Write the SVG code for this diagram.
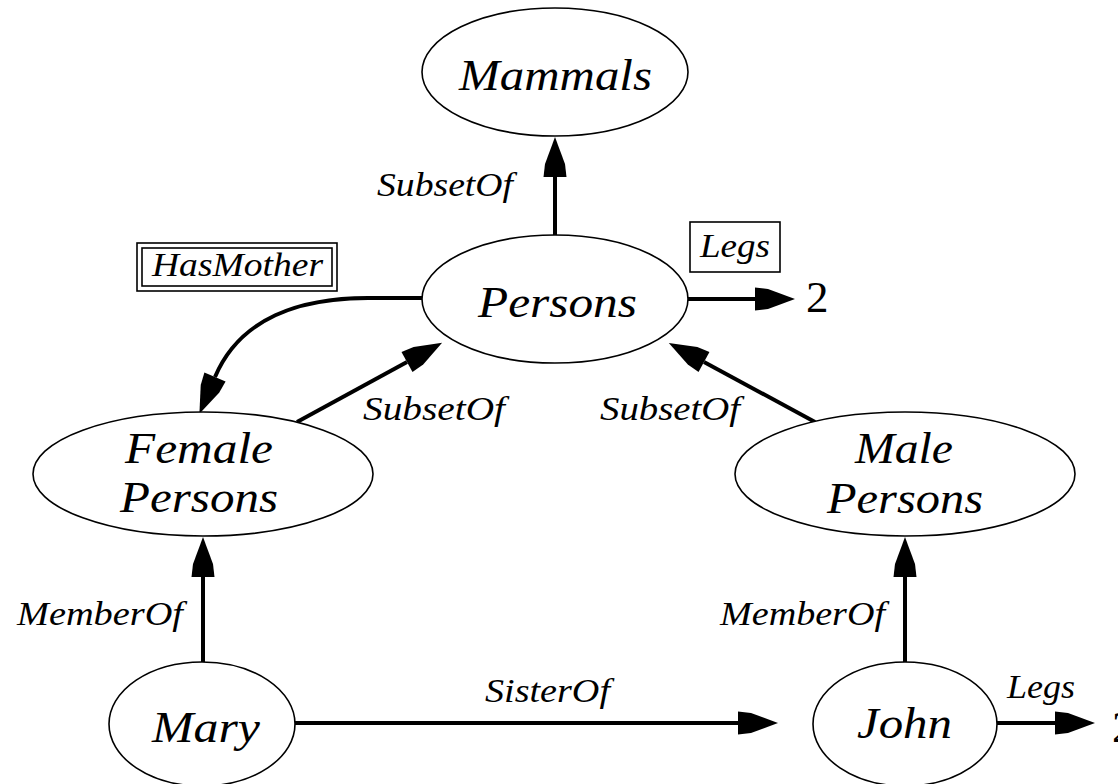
<svg xmlns="http://www.w3.org/2000/svg" width="1118" height="784" viewBox="0 0 1118 784">
<style>
.node ellipse{fill:#fff;stroke:#000;stroke-width:1.6}
.nt{font-family:"Liberation Serif","Times New Roman",serif;font-style:italic;font-size:45px;fill:#000}
.el{font-family:"Liberation Serif","Times New Roman",serif;font-style:italic;font-size:33px;fill:#000}
.num{font-family:"Liberation Serif","Times New Roman",serif;font-size:45px;fill:#000}
.edge{fill:none;stroke:#000;stroke-width:4}
.box{fill:none;stroke:#000;stroke-width:1.6}
</style>
<defs>
<marker id="ah" markerUnits="userSpaceOnUse" markerWidth="44" markerHeight="26" refX="0" refY="0" viewBox="0 -13 44 26" orient="auto" overflow="visible">
<path d="M0,-11.5 L13,-10 L40,0 L13,10 L0,11.5 z" fill="#000"/>
</marker>
</defs>
<rect width="1118" height="784" fill="#fff"/>
<g id="connectors">
<line class="edge" x1="555" y1="235" x2="555" y2="177" marker-end="url(#ah)"/>
<line class="edge" x1="688" y1="299" x2="755" y2="299" marker-end="url(#ah)"/>
<path class="edge" d="M422,298 L368,298 C300,298 240,318 215,377" marker-end="url(#ah)"/>
<line class="edge" x1="297" y1="422" x2="407" y2="362" marker-end="url(#ah)"/>
<line class="edge" x1="815" y1="422" x2="704" y2="362" marker-end="url(#ah)"/>
<line class="edge" x1="203" y1="662" x2="203" y2="577" marker-end="url(#ah)"/>
<line class="edge" x1="905" y1="662" x2="905" y2="577" marker-end="url(#ah)"/>
<line class="edge" x1="295" y1="723" x2="738" y2="723" marker-end="url(#ah)"/>
<line class="edge" x1="997" y1="723" x2="1055" y2="723" marker-end="url(#ah)"/>
<text class="el" x="377" y="196" textLength="136" lengthAdjust="spacingAndGlyphs">SubsetOf</text>
<text class="el" x="363" y="420" textLength="142" lengthAdjust="spacingAndGlyphs">SubsetOf</text>
<text class="el" x="600" y="420" textLength="140" lengthAdjust="spacingAndGlyphs">SubsetOf</text>
<text class="el" x="17" y="625" textLength="166" lengthAdjust="spacingAndGlyphs">MemberOf</text>
<text class="el" x="720" y="625" textLength="165" lengthAdjust="spacingAndGlyphs">MemberOf</text>
<text class="el" x="485" y="702" textLength="125" lengthAdjust="spacingAndGlyphs">SisterOf</text>
<text class="el" x="1007" y="698" textLength="68" lengthAdjust="spacingAndGlyphs">Legs</text>
<g id="legs-box">
<rect class="box" x="690" y="222" width="90" height="50"/>
<text class="el" x="700" y="257" font-size="34" textLength="70" lengthAdjust="spacingAndGlyphs">Legs</text>
</g>
<g id="hasmother-box">
<rect class="box" x="137" y="243" width="200" height="48"/>
<rect class="box" x="142" y="248" width="190" height="38"/>
<text class="el" x="152" y="276" textLength="171" lengthAdjust="spacingAndGlyphs">HasMother</text>
</g>
<text class="num" x="806" y="312">2</text>
<text class="num" x="1112" y="742">2</text>
</g>
<g id="mammals" class="node">
<ellipse cx="555" cy="72" rx="133" ry="64"/>
<text class="nt" x="459" y="90" textLength="193" lengthAdjust="spacingAndGlyphs">Mammals</text>
</g>
<g id="persons" class="node">
<ellipse cx="555" cy="299" rx="133" ry="64"/>
<text class="nt" x="478" y="317" textLength="159" lengthAdjust="spacingAndGlyphs">Persons</text>
</g>
<g id="female-persons" class="node">
<ellipse cx="203" cy="474" rx="170" ry="62"/>
<text class="nt" x="125" y="463" textLength="148" lengthAdjust="spacingAndGlyphs">Female</text>
<text class="nt" x="120" y="512" textLength="158" lengthAdjust="spacingAndGlyphs">Persons</text>
</g>
<g id="male-persons" class="node">
<ellipse cx="905" cy="474" rx="170" ry="62"/>
<text class="nt" x="855" y="463" textLength="98" lengthAdjust="spacingAndGlyphs">Male</text>
<text class="nt" x="827" y="513" textLength="156" lengthAdjust="spacingAndGlyphs">Persons</text>
</g>
<g id="mary" class="node">
<ellipse cx="202" cy="724" rx="93" ry="62"/>
<text class="nt" x="152" y="742" textLength="108" lengthAdjust="spacingAndGlyphs">Mary</text>
</g>
<g id="john" class="node">
<ellipse cx="905" cy="724" rx="92" ry="62"/>
<text class="nt" x="857" y="738" textLength="95" lengthAdjust="spacingAndGlyphs">John</text>
</g>
</svg>
